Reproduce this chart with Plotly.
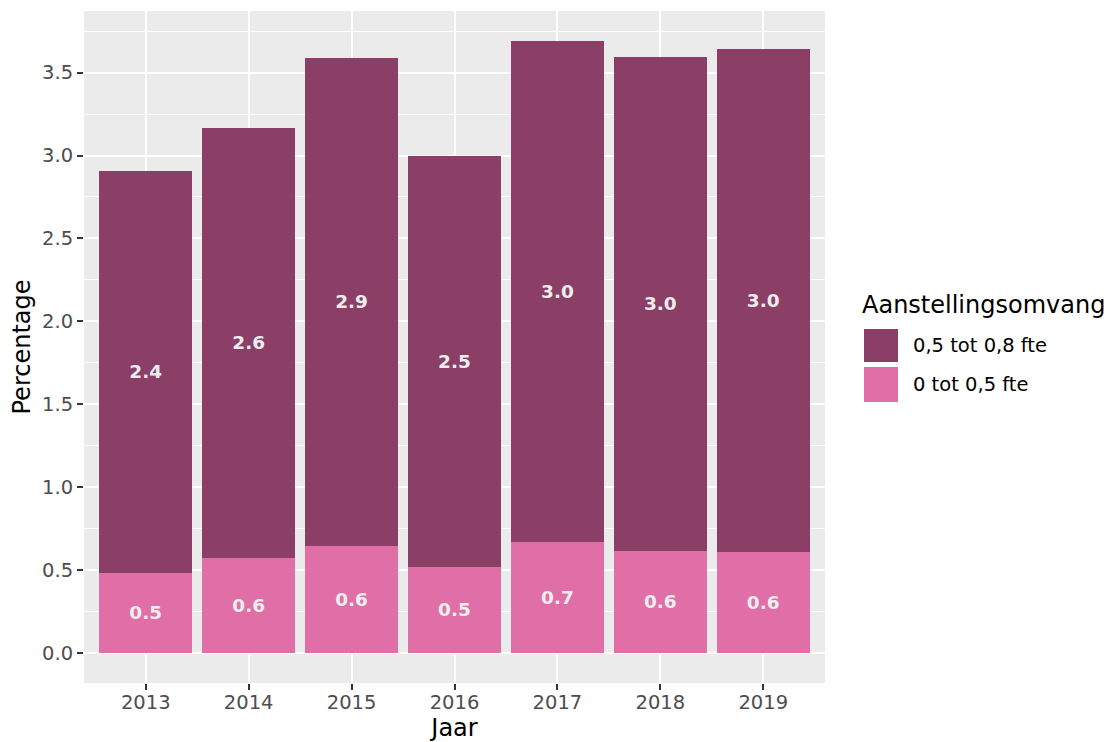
import plotly.graph_objects as go

years = ["2013", "2014", "2015", "2016", "2017", "2018", "2019"]
low_fte = [0.483, 0.573, 0.646, 0.519, 0.670, 0.616, 0.610]        # 0 tot 0,5 fte
mid_fte = [2.426, 2.595, 2.945, 2.481, 3.023, 2.981, 3.035]        # 0,5 tot 0,8 fte
series_names = ["0 tot 0,5 fte", "0,5 tot 0,8 fte"]
legend_title = "Aanstellingsomvang"
y_ticks = [0.0, 0.5, 1.0, 1.5, 2.0, 2.5, 3.0, 3.5]

c_low = "#E06FA8"
c_mid = "#8B3E66"
font_fam = "DejaVu Sans"

# the page body has an 8px margin; figure is sized to compensate
OFF = 8
W, H = 1114 - OFF, 742 - OFF
ML, MR, MT, MB = 84 - OFF, 289, 11 - OFF, 59

fig = go.Figure()
for name, vals, col in [(series_names[0], low_fte, c_low), (series_names[1], mid_fte, c_mid)]:
    fig.add_trace(go.Bar(
        x=list(range(len(years))), y=vals, name=name, width=0.9,
        marker=dict(color=col, line=dict(width=0)),
        text=[f"{v:.1f}" for v in vals], textposition="inside",
        insidetextanchor="middle", textangle=0, constraintext="none",
        textfont=dict(family=font_fam, size=18.5, color="#EEEEEE", weight="bold"),
        showlegend=False, hoverinfo="skip",
    ))

fig.update_layout(
    barmode="stack",
    width=W, height=H,
    margin=dict(l=ML, r=MR, t=MT, b=MB, pad=0),
    paper_bgcolor="white",
    plot_bgcolor="#EBEBEB",
    font=dict(family=font_fam, color="black"),
    uniformtext=dict(mode=False),
)
fig.update_xaxes(
    range=[-0.6, 6.6], tickmode="array", tickvals=list(range(len(years))), ticktext=years,
    showgrid=True, gridcolor="white", gridwidth=2, zeroline=False,
    ticks="outside", ticklen=6, tickcolor="#333333", tickwidth=1.6,
    tickfont=dict(family=font_fam, size=19.5, color="#4D4D4D"),
    title=dict(text="Jaar", font=dict(family=font_fam, size=24, color="black"), standoff=3),
    showline=False,
)
try:
    fig.update_xaxes(ticklabelstandoff=-4)
except Exception:
    pass
fig.update_yaxes(
    range=[-0.182, 3.872], tickmode="array", tickvals=y_ticks,
    ticktext=[f"{v:.1f}" for v in y_ticks],
    showgrid=True, gridcolor="white", gridwidth=2, zeroline=False,
    minor=dict(dtick=0.25, tick0=0.25, showgrid=True, gridcolor="white", gridwidth=1, ticks=""),
    ticks="outside", ticklen=6, tickcolor="#333333", tickwidth=1.6,
    tickfont=dict(family=font_fam, size=19.5, color="#4D4D4D"),
    title=dict(text="Percentage", font=dict(family=font_fam, size=24, color="black"), standoff=5),
    showline=False,
)

# manual ggplot-style legend (positions given in page pixels)
pw = W - ML - MR
ph = H - MT - MB
def px_x(x):
    return (x - OFF - ML) / pw
def px_y(y):
    return (H - MB - (y - OFF)) / ph

fig.add_annotation(x=px_x(860), y=px_y(305), xref="paper", yref="paper", text=legend_title,
                   showarrow=False, xanchor="left", yanchor="middle",
                   font=dict(family=font_fam, size=24, color="black"))
legend_items = [(series_names[1], c_mid, 329, 362), (series_names[0], c_low, 367, 402)]
for name, col, y0, y1 in legend_items:
    fig.add_shape(type="rect", xref="paper", yref="paper",
                  x0=px_x(864), x1=px_x(898), y0=px_y(y1), y1=px_y(y0),
                  fillcolor=col, line=dict(width=0))
    fig.add_annotation(x=px_x(911), y=px_y((y0 + y1) / 2), xref="paper", yref="paper", text=name,
                       showarrow=False, xanchor="left", yanchor="middle",
                       font=dict(family=font_fam, size=19.5, color="black"))

fig.write_html("out.html")
